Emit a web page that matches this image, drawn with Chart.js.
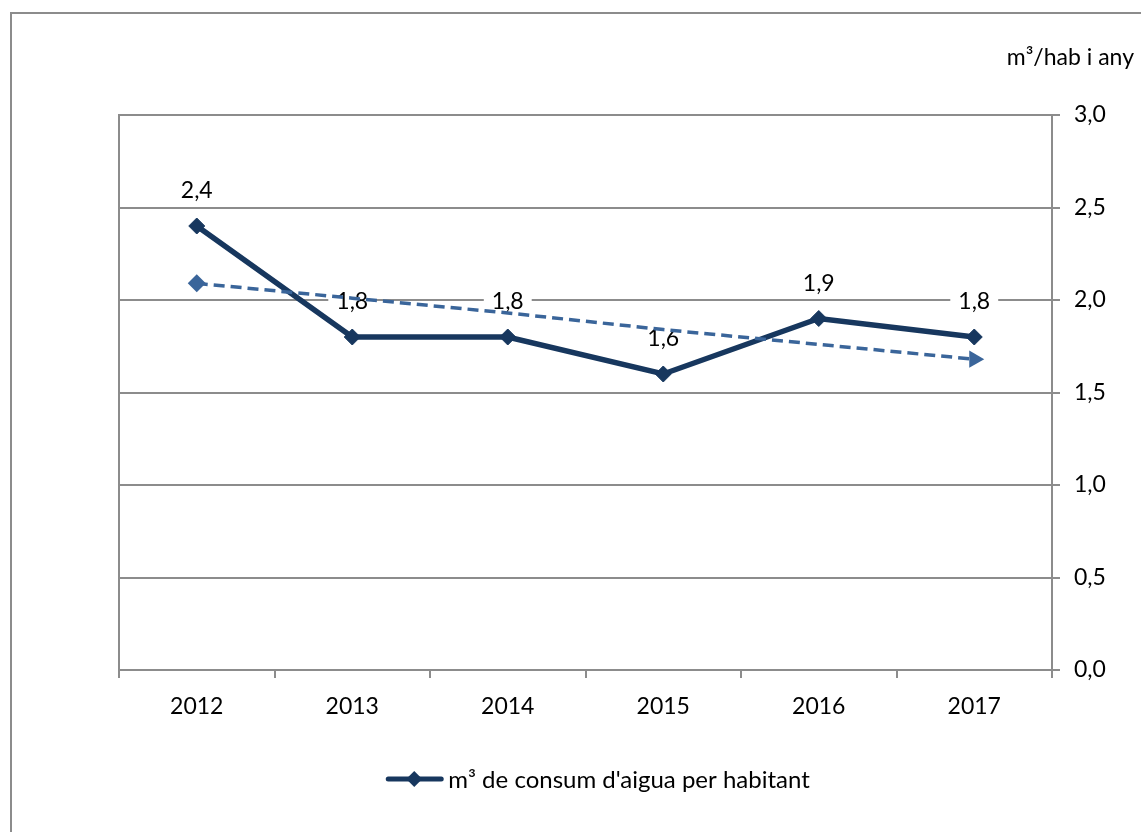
<!DOCTYPE html>
<html>
<head>
<meta charset="utf-8">
<script src="https://cdn.jsdelivr.net/npm/chart.js@4.4.0/dist/chart.umd.min.js"></script>
<style>
  html, body { margin: 0; padding: 0; background: #fff; }
  body { width: 1141px; height: 832px; position: relative; overflow: hidden; }
  #frame { position: absolute; left: 10px; top: 12px; width: 1200px; height: 900px;
           border-left: 2px solid #8c8c8c; border-top: 2px solid #8c8c8c; }
  #wrap { position: absolute; left: 0; top: 0; width: 1141px; height: 832px; }
</style>
</head>
<body>
<div id="frame"></div>
<div id="wrap"><canvas id="c" width="1141" height="832"></canvas></div>
<script>
const years = ['2012', '2013', '2014', '2015', '2016', '2017'];
const consum = [2.4, 1.8, 1.8, 1.6, 1.9, 1.8];
const trend = [2.09, 2.01, 1.93, 1.84, 1.76, 1.68];
const yTicks = [0, 0.5, 1.0, 1.5, 2.0, 2.5, 3.0];
const unitLabel = 'm³/hab i any';
const seriesLabel = "m³ de consum d'aigua per habitant";

const FONT = 'Lato, "Open Sans", sans-serif';
const FS = 23;
const NAVY = '#17375E';
const TREND = '#3A659A';
const GRID = '#8c8c8c';

const fmt = v => v.toFixed(1).replace('.', ',');

const decor = {
  id: 'decor',
  beforeDatasetsDraw(chart) {
    const { ctx, chartArea } = chart;
    ctx.save();
    ctx.strokeStyle = GRID; ctx.lineWidth = 2;
    ctx.beginPath(); ctx.moveTo(chartArea.left, chartArea.top - 1); ctx.lineTo(chartArea.left, chartArea.bottom); ctx.stroke();
    const meta = chart.getDatasetMeta(0);
    ctx.font = FS + 'px ' + FONT;
    ctx.textAlign = 'center'; ctx.textBaseline = 'middle';
    meta.data.forEach((pt, i) => {
      const txt = fmt(consum[i]);
      const y = pt.y - 36;
      const w = ctx.measureText(txt).width + 16;
      ctx.fillStyle = '#fff';
      ctx.fillRect(pt.x - w / 2, y - 16, w, 32);
      ctx.fillStyle = '#000';
      ctx.fillText(txt, pt.x, y + 1);
    });
    ctx.restore();
  },
  afterDraw(chart) {
    const { ctx } = chart;
    ctx.save();
    ctx.font = FS + 'px ' + FONT;
    ctx.fillStyle = '#000';
    ctx.textAlign = 'right'; ctx.textBaseline = 'middle';
    ctx.fillText(unitLabel, 1134, 58);
    ctx.font = '24px ' + FONT;
    ctx.textAlign = 'left';
    const tw = ctx.measureText(seriesLabel).width;
    const total = 53 + 7 + tw;
    const x0 = 599 - total / 2;
    const ly = 779;
    ctx.strokeStyle = NAVY; ctx.lineWidth = 5; ctx.lineCap = 'round';
    ctx.beginPath(); ctx.moveTo(x0, ly); ctx.lineTo(x0 + 53, ly); ctx.stroke();
    ctx.fillStyle = NAVY;
    const cx = x0 + 26, r = 8;
    ctx.beginPath(); ctx.moveTo(cx, ly - r); ctx.lineTo(cx + r, ly); ctx.lineTo(cx, ly + r); ctx.lineTo(cx - r, ly); ctx.closePath(); ctx.fill();
    ctx.fillStyle = '#000';
    ctx.fillText(seriesLabel, x0 + 60, ly + 1);
    ctx.restore();
  }
};

new Chart(document.getElementById('c'), {
  type: 'line',
  data: {
    labels: years,
    datasets: [
      {
        label: seriesLabel,
        data: consum,
        borderColor: NAVY,
        backgroundColor: NAVY,
        borderWidth: 5.5,
        pointStyle: 'rectRot',
        pointRadius: 8,
        pointHoverRadius: 8,
        pointBackgroundColor: NAVY,
        pointBorderColor: NAVY,
        pointBorderWidth: 1,
        tension: 0,
        order: 1
      },
      {
        label: 'trend',
        data: trend,
        borderColor: TREND,
        backgroundColor: TREND,
        borderWidth: 3.5,
        borderDash: [11, 6],
        pointStyle: ctx => ctx.dataIndex === trend.length - 1 ? 'triangle' : 'rectRot',
        pointRotation: ctx => ctx.dataIndex === trend.length - 1 ? 90 : 0,
        pointRadius: ctx => (ctx.dataIndex === 0 ? 9 : (ctx.dataIndex === trend.length - 1 ? 10 : 0)),
        pointBackgroundColor: TREND,
        pointBorderColor: TREND,
        pointBorderWidth: 0,
        tension: 0,
        order: 0
      }
    ]
  },
  options: {
    responsive: false,
    animation: false,
    events: [],
    layout: { padding: { top: 115, left: 119, right: 0, bottom: 92 } },
    plugins: { legend: { display: false }, tooltip: { enabled: false }, title: { display: false } },
    scales: {
      x: {
        offset: true,
        grid: { offset: true, drawOnChartArea: false, drawTicks: true, tickLength: 8, color: GRID, lineWidth: 2 },
        border: { display: true, color: GRID, width: 2 },
        ticks: { color: '#000', font: { family: FONT, size: FS }, padding: 15, maxRotation: 0 },
        afterFit: s => { s.height = 70; }
      },
      y: {
        position: 'right',
        min: 0, max: 3,
        afterBuildTicks: s => { s.ticks = yTicks.map(v => ({ value: v })); },
        grid: { color: GRID, lineWidth: 2, tickLength: 8 },
        border: { display: true, color: GRID, width: 2 },
        ticks: { color: '#000', font: { family: FONT, size: FS }, padding: 14, callback: v => fmt(v) },
        afterFit: s => { s.width = 89; }
      }
    }
  },
  plugins: [decor]
});
</script>
</body>
</html>
